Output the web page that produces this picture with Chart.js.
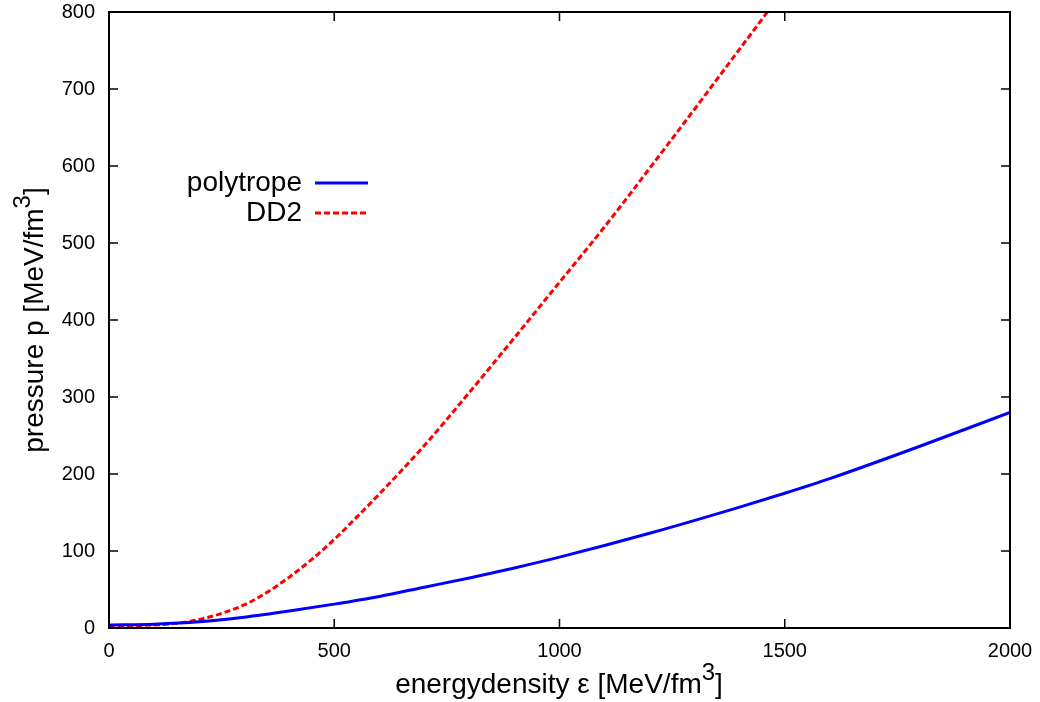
<!DOCTYPE html>
<html>
<head>
<meta charset="UTF-8">
<title>EOS pressure vs energydensity</title>
<script src="https://cdn.jsdelivr.net/npm/chart.js"></script>
<style>
    body {
        margin: 0;
        background: white;
    }
    #wrap {
        width: 1040px;
        height: 702px;
    }
</style>
</head>
<body>
<div id="wrap"><canvas id="eosChart" width="1040" height="702"></canvas></div>
<script>
    // values
    const polyEps = [0, 100, 200, 300, 400, 500, 600, 700, 800, 900, 1000, 1200, 1400, 1500, 1600, 1800, 2000];
    const polyP = [4, 5, 8, 14, 22, 31, 41, 53, 65, 78, 92, 123, 157, 175, 194, 236, 280];

    const dd2Eps = [0, 100, 150, 200, 250, 300, 350, 400, 450, 500, 550, 600, 700, 800, 900, 1000, 1100, 1200, 1300, 1400, 1500];
    const dd2P = [2, 4, 6, 11, 19, 30, 46, 66, 89, 115, 144, 174, 237, 306, 377, 449, 521, 597, 674, 752, 830];

    const xTicks = [0, 500, 1000, 1500, 2000];
    const yTicks = [0, 100, 200, 300, 400, 500, 600, 700, 800];

    const FONT = "'Liberation Sans', Arial, sans-serif";

    function toPoints(xs, ys) {
        return xs.map((x, i) => ({ x: x, y: ys[i] }));
    }

    // frame + inward ticks on all four sides, gnuplot style
    const framePlugin = {
        id: 'frame',
        afterDatasetsDraw(chart) {
            const ctx = chart.ctx;
            const a = chart.chartArea;
            const xs = chart.scales.x;
            const ys = chart.scales.y;
            const len = 9;
            ctx.save();
            ctx.strokeStyle = '#000';
            ctx.lineWidth = 1.5;
            xTicks.forEach(v => {
                const px = xs.getPixelForValue(v);
                ctx.beginPath();
                ctx.moveTo(px, a.bottom); ctx.lineTo(px, a.bottom - len);
                ctx.moveTo(px, a.top); ctx.lineTo(px, a.top + len);
                ctx.stroke();
            });
            yTicks.forEach(v => {
                const py = ys.getPixelForValue(v);
                ctx.beginPath();
                ctx.moveTo(a.left, py); ctx.lineTo(a.left + len, py);
                ctx.moveTo(a.right, py); ctx.lineTo(a.right - len, py);
                ctx.stroke();
            });
            ctx.lineWidth = 2;
            ctx.strokeRect(a.left, a.top, a.right - a.left, a.bottom - a.top);
            ctx.restore();
        }
    };

    function drawWithSup(ctx, parts, x, y, size) {
        // parts: [text, sup, text], centred on x
        const supSize = Math.round(size * 0.85);
        ctx.font = size + 'px ' + FONT;
        const w1 = ctx.measureText(parts[0]).width;
        const w3 = ctx.measureText(parts[2]).width;
        ctx.font = supSize + 'px ' + FONT;
        const w2 = ctx.measureText(parts[1]).width;
        let cx = x - (w1 + w2 + w3) / 2;
        ctx.textAlign = 'left';
        ctx.textBaseline = 'alphabetic';
        ctx.font = size + 'px ' + FONT;
        ctx.fillText(parts[0], cx, y);
        cx += w1;
        ctx.font = supSize + 'px ' + FONT;
        ctx.fillText(parts[1], cx, y - size * 0.45);
        cx += w2;
        ctx.font = size + 'px ' + FONT;
        ctx.fillText(parts[2], cx, y);
    }

    const titlesPlugin = {
        id: 'titles',
        afterDraw(chart) {
            const ctx = chart.ctx;
            ctx.save();
            ctx.fillStyle = '#000';
            drawWithSup(ctx, ['energydensity \u03b5 [MeV/fm', '3', ']'], 559, 693, 28);
            ctx.translate(43, 320);
            ctx.rotate(-Math.PI / 2);
            drawWithSup(ctx, ['pressure p [MeV/fm', '3', ']'], 0, 0, 28);
            ctx.restore();
        }
    };

    // key: text right aligned, line sample to its right
    const keyPlugin = {
        id: 'key',
        afterDraw(chart) {
            const ctx = chart.ctx;
            ctx.save();
            chart.data.datasets.forEach((ds, i) => {
                const y = 183 + 30 * i;
                ctx.font = '28px ' + FONT;
                ctx.fillStyle = '#000';
                ctx.textAlign = 'right';
                ctx.textBaseline = 'middle';
                ctx.fillText(ds.label, 302, y);
                ctx.strokeStyle = ds.borderColor;
                ctx.lineWidth = ds.borderWidth;
                ctx.setLineDash(ds.borderDash || []);
                ctx.beginPath();
                ctx.moveTo(315, y);
                ctx.lineTo(368, y);
                ctx.stroke();
            });
            ctx.restore();
        }
    };

    new Chart(document.getElementById('eosChart'), {
        type: 'line',
        data: {
            datasets: [
                {
                    label: 'polytrope',
                    data: toPoints(polyEps, polyP),
                    borderColor: '#0000ff',
                    borderWidth: 3,
                    pointRadius: 0,
                    cubicInterpolationMode: 'monotone',
                    fill: false
                },
                {
                    label: 'DD2',
                    data: toPoints(dd2Eps, dd2P),
                    borderColor: '#ff0000',
                    borderWidth: 3,
                    borderDash: [6, 3],
                    pointRadius: 0,
                    cubicInterpolationMode: 'monotone',
                    fill: false
                }
            ]
        },
        options: {
            responsive: false,
            animation: false,
            layout: {
                padding: { left: 0, right: 30, top: 12, bottom: 0 }
            },
            plugins: {
                legend: { display: false },
                tooltip: { enabled: false }
            },
            scales: {
                x: {
                    type: 'linear',
                    min: 0,
                    max: 2000,
                    border: { display: false },
                    grid: { display: false, drawTicks: false },
                    ticks: {
                        stepSize: 500,
                        padding: 11,
                        color: '#000',
                        font: { family: FONT, size: 20 },
                        callback: v => String(v)
                    },
                    afterFit(scale) {
                        scale.height = 74;
                        scale.paddingLeft = 0;
                        scale.paddingRight = 0;
                    }
                },
                y: {
                    type: 'linear',
                    min: 0,
                    max: 800,
                    border: { display: false },
                    grid: { display: false, drawTicks: false },
                    ticks: {
                        stepSize: 100,
                        padding: 14,
                        color: '#000',
                        font: { family: FONT, size: 20 },
                        callback: v => String(v)
                    },
                    afterFit(scale) {
                        scale.width = 109;
                        scale.paddingTop = 0;
                        scale.paddingBottom = 0;
                    }
                }
            }
        },
        plugins: [framePlugin, titlesPlugin, keyPlugin]
    });
</script>
</body>
</html>
